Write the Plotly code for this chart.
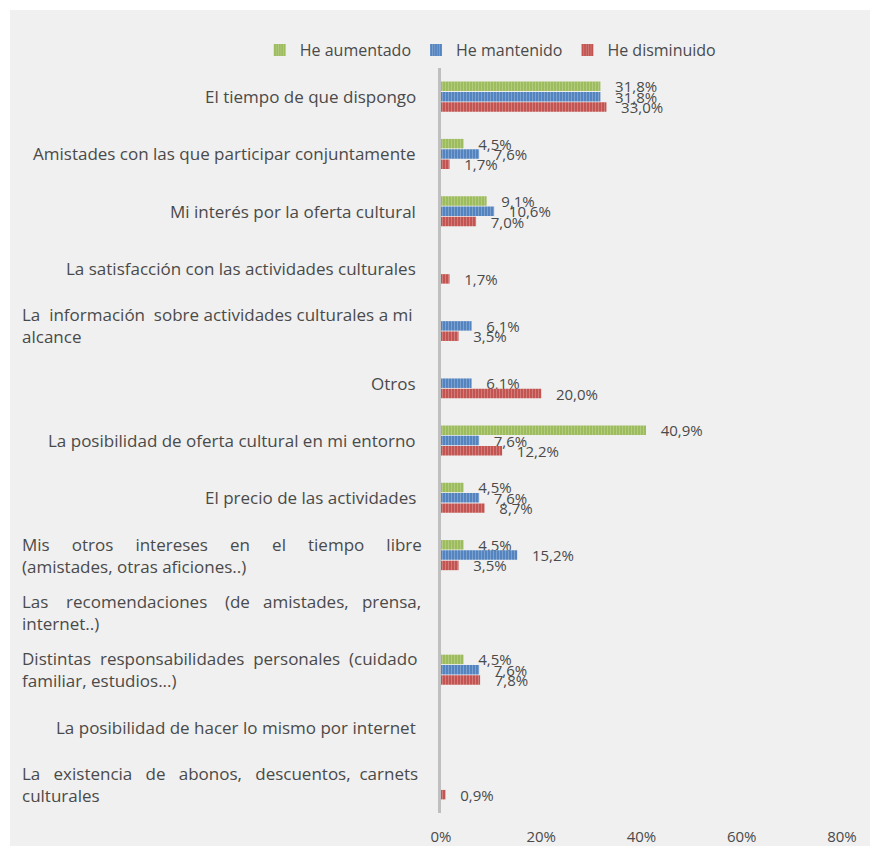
import plotly.graph_objects as go

categories = [
    "El tiempo de que dispongo",
    "Amistades con las que participar conjuntamente",
    "Mi interés por la oferta cultural",
    "La satisfacción con las actividades culturales",
    "La información sobre actividades culturales a mi\nalcance",
    "Otros",
    "La posibilidad de oferta cultural en mi entorno",
    "El precio de las actividades",
    "Mis otros intereses en el tiempo libre\n(amistades, otras aficiones..)",
    "Las recomendaciones (de amistades, prensa,\ninternet..)",
    "Distintas responsabilidades personales (cuidado\nfamiliar, estudios...)",
    "La posibilidad de hacer lo mismo por internet",
    "La existencia de abonos, descuentos, carnets\nculturales",
]
cat_ids = [f"c{i}" for i in range(len(categories))]

aumentado = [31.8, 4.5, 9.1, None, None, None, 40.9, 4.5, 4.5, None, 4.5, None, None]
mantenido = [31.8, 7.6, 10.6, None, 6.1, 6.1, 7.6, 7.6, 15.2, None, 7.6, None, None]
disminuido = [33.0, 1.7, 7.0, 1.7, 3.5, 20.0, 12.2, 8.7, 3.5, None, 7.8, None, 0.9]

series = [
    ("He aumentado", aumentado, "#9bbb59", "#c9dca6"),
    ("He mantenido", mantenido, "#4f81bd", "#a9c2e2"),
    ("He disminuido", disminuido, "#c0504d", "#e4a5a3"),
]
x_ticks = [0, 20, 40, 60, 80]
x_ticktext = ["0%", "20%", "40%", "60%", "80%"]

FONT = "Open Sans"
TXT = "#4a4a4a"
LABEL_SIZE = 17

# total extra non-breaking spaces spread over the word gaps of the first line,
# to imitate the justified wrapped labels
justify_pad = {4: 2, 8: 24, 9: 10, 10: 3, 12: 9}


def label_html(i, text):
    lines = text.split("\n")
    if len(lines) > 1 and i in justify_pad:
        words = lines[0].split(" ")
        gaps = len(words) - 1
        total = justify_pad[i]
        out = words[0]
        for g in range(gaps):
            n = total // gaps + (1 if g < total % gaps else 0)
            out += " " + "\u00a0" * n + words[g + 1]
        lines[0] = out
    return "<br>".join(lines)


fig = go.Figure()
for name, vals, col, light in series:
    fig.add_trace(go.Bar(
        y=cat_ids, x=vals, name=name, orientation="h",
        marker=dict(color=col, line=dict(width=0),
                    pattern=dict(shape="|", fillmode="overlay", fgcolor=light,
                                 size=3, solidity=0.4)),
        texttemplate="\u00a0\u00a0\u00a0%{x:.1f}%", textposition="outside",
        textfont=dict(family=FONT, size=15, color=TXT),
        constraintext="none", cliponaxis=False,
    ))

# category labels, placed on the category axis
for i, (cid, label) in enumerate(zip(cat_ids, categories)):
    if "\n" in label:
        fig.add_annotation(x=-1.05, xref="paper", y=cid, yref="y", text=label_html(i, label),
                           showarrow=False, xanchor="left", align="left",
                           font=dict(family=FONT, size=LABEL_SIZE, color=TXT))
    else:
        fig.add_annotation(x=-0.057, xref="paper", y=cid, yref="y", text=label,
                           showarrow=False, xanchor="right", align="right",
                           font=dict(family=FONT, size=LABEL_SIZE, color=TXT))

fig.add_shape(type="rect", xref="paper", yref="paper", x0=-1.0748, x1=1.2,
              y0=-0.2, y1=1.0779, fillcolor="#f0f0f0", line=dict(width=0), layer="below")

fig.update_layout(
    width=870, height=846,
    margin=dict(l=441, r=28, t=68, b=33),
    paper_bgcolor="white", plot_bgcolor="#f0f0f0",
    separators=",.",
    barmode="group", bargap=0.46, bargroupgap=0.08,
    font=dict(family=FONT, size=15, color=TXT),
    showlegend=True,
    legend=dict(orientation="h", x=-0.452, xanchor="left",
                y=1.024, yanchor="middle",
                bgcolor="rgba(0,0,0,0)", font=dict(family=FONT, size=16, color=TXT),
                traceorder="normal", itemwidth=30),
    xaxis=dict(range=[0, 80], tickvals=x_ticks, ticktext=x_ticktext, showgrid=False,
               zeroline=False, showline=False, ticks="outside", ticklen=10,
               automargin=False,
               tickcolor="rgba(0,0,0,0)", tickfont=dict(family=FONT, size=15, color=TXT)),
    yaxis=dict(categoryorder="array", categoryarray=cat_ids, autorange="reversed",
               showticklabels=False, showgrid=False, zeroline=False, automargin=False,
               showline=True, linecolor="#bfbfbf", linewidth=3),
)

fig.write_html("out.html", config={"displayModeBar": False},
               post_script="document.body.style.margin='0';")
